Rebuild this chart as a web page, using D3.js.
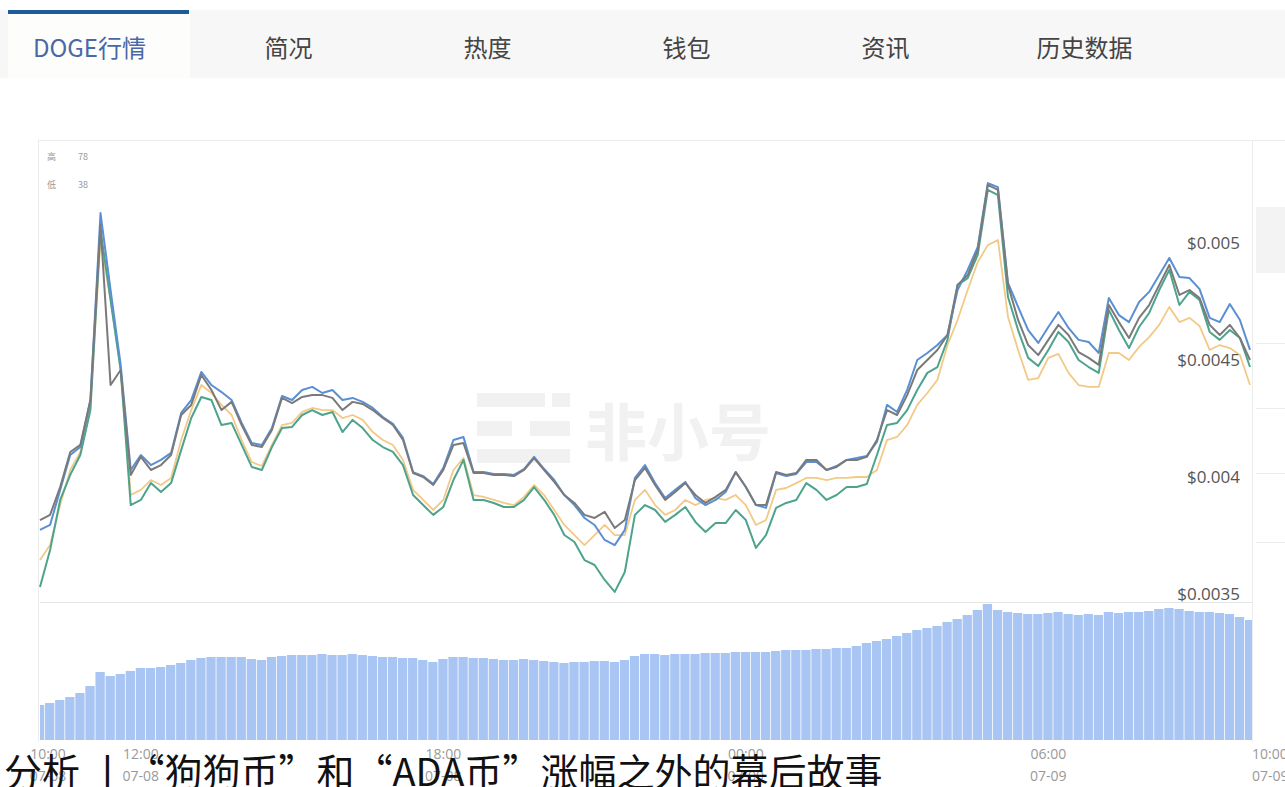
<!DOCTYPE html>
<html><head><meta charset="utf-8">
<script src="https://cdn.jsdelivr.net/npm/d3@7"></script>
<style>body{margin:0;background:#fff;overflow:hidden}</style>
</head><body>
<svg id="c" width="1285" height="787"></svg>
<script>
// ---------- data ----------
const tabs = ["DOGE行情","简况","热度","钱包","资讯","历史数据"];
const startTime = new Date(2021, 6, 8, 10, 0);   // 07-08 10:00
const stepMinutes = 12;                           // sampling interval
const priceGrey = [0.003816,0.003838,0.003957,0.004107,0.004137,0.004329,0.005077,0.004393,0.004457,0.004009,
0.004086,0.004030,0.004051,0.004094,0.004265,0.004308,0.004436,0.004372,0.004286,0.004321,
0.004222,0.004137,0.004128,0.004201,0.004338,0.004316,0.004342,0.004350,0.004350,0.004338,
0.004286,0.004321,0.004312,0.004286,0.004252,0.004222,0.004158,0.004017,0.004000,0.003966,
0.004030,0.004137,0.004145,0.004017,0.004017,0.004009,0.004009,0.004004,0.004030,0.004081,
0.004030,0.003979,0.003923,0.003889,0.003838,0.003825,0.003851,0.003782,0.003816,0.003987,
0.004039,0.003966,0.003902,0.003936,0.003974,0.003923,0.003889,0.003915,0.003945,0.004021,
0.003957,0.003880,0.003880,0.004021,0.004009,0.004017,0.004073,0.004073,0.004030,0.004043,
0.004073,0.004073,0.004086,0.004158,0.004286,0.004265,0.004350,0.004457,0.004500,0.004543,
0.004607,0.004821,0.004863,0.004970,0.005248,0.005227,0.004821,0.004671,0.004564,0.004521,
0.004586,0.004650,0.004607,0.004534,0.004509,0.004479,0.004735,0.004662,0.004594,0.004680,
0.004735,0.004821,0.004906,0.004778,0.004799,0.004765,0.004650,0.004607,0.004650,0.004594,0.004500];
const priceBlue = [0.003774,0.003795,0.003945,0.004094,0.004128,0.004329,0.005128,0.004799,0.004479,0.004030,
0.004094,0.004051,0.004073,0.004103,0.004274,0.004329,0.004449,0.004393,0.004363,0.004329,
0.004231,0.004145,0.004137,0.004209,0.004346,0.004329,0.004372,0.004385,0.004359,0.004372,
0.004329,0.004338,0.004321,0.004295,0.004256,0.004227,0.004167,0.004021,0.004004,0.003970,
0.004039,0.004158,0.004171,0.004021,0.004021,0.004013,0.004013,0.004009,0.004034,0.004086,
0.004034,0.003987,0.003923,0.003880,0.003825,0.003795,0.003731,0.003709,0.003774,0.003996,
0.004051,0.003974,0.003910,0.003945,0.003979,0.003910,0.003880,0.003902,0.003936,0.004021,
0.003957,0.003880,0.003868,0.004017,0.004004,0.004013,0.004064,0.004064,0.004030,0.004047,
0.004073,0.004081,0.004090,0.004150,0.004308,0.004278,0.004372,0.004500,0.004530,0.004564,
0.004607,0.004799,0.004885,0.004983,0.005256,0.005239,0.004829,0.004727,0.004628,0.004573,
0.004641,0.004705,0.004637,0.004586,0.004577,0.004530,0.004765,0.004692,0.004662,0.004748,
0.004791,0.004863,0.004936,0.004855,0.004850,0.004803,0.004680,0.004662,0.004739,0.004671,0.004543];
const priceGreen = [0.003530,0.003688,0.003902,0.004009,0.004094,0.004286,0.005056,0.004756,0.004457,0.003880,
0.003902,0.003974,0.003936,0.003974,0.004115,0.004252,0.004342,0.004329,0.004222,0.004231,
0.004137,0.004043,0.004030,0.004128,0.004209,0.004214,0.004265,0.004286,0.004265,0.004278,
0.004192,0.004244,0.004209,0.004158,0.004128,0.004107,0.004051,0.003923,0.003880,0.003838,
0.003872,0.003987,0.004073,0.003902,0.003902,0.003889,0.003872,0.003872,0.003902,0.003957,
0.003902,0.003838,0.003752,0.003722,0.003645,0.003624,0.003560,0.003509,0.003594,0.003838,
0.003880,0.003859,0.003808,0.003838,0.003872,0.003808,0.003765,0.003803,0.003803,0.003859,
0.003816,0.003697,0.003752,0.003868,0.003889,0.003902,0.003974,0.003945,0.003902,0.003923,
0.003957,0.003957,0.003970,0.004094,0.004222,0.004231,0.004286,0.004372,0.004445,0.004470,
0.004586,0.004821,0.004850,0.004949,0.005227,0.005205,0.004769,0.004628,0.004509,0.004474,
0.004543,0.004620,0.004577,0.004500,0.004470,0.004445,0.004714,0.004628,0.004551,0.004641,
0.004701,0.004799,0.004885,0.004735,0.004791,0.004756,0.004620,0.004586,0.004628,0.004594,0.004470];
const priceOrange = [0.003645,0.003709,0.003880,0.004030,0.004107,0.004308,0.005013,0.004756,0.004457,0.003923,
0.003945,0.003987,0.003966,0.003996,0.004158,0.004286,0.004393,0.004359,0.004308,0.004265,
0.004158,0.004064,0.004047,0.004137,0.004222,0.004231,0.004278,0.004295,0.004286,0.004286,
0.004252,0.004265,0.004244,0.004192,0.004158,0.004137,0.004073,0.003945,0.003902,0.003859,
0.003902,0.004030,0.004081,0.003923,0.003915,0.003902,0.003889,0.003880,0.003915,0.003966,
0.003923,0.003859,0.003795,0.003752,0.003709,0.003752,0.003795,0.003752,0.003752,0.003902,
0.003945,0.003880,0.003838,0.003859,0.003902,0.003880,0.003902,0.003910,0.003902,0.003923,
0.003880,0.003795,0.003816,0.003945,0.003953,0.003974,0.003996,0.003996,0.003987,0.003996,
0.003996,0.004000,0.004000,0.004030,0.004158,0.004171,0.004222,0.004308,0.004359,0.004415,
0.004564,0.004671,0.004799,0.004919,0.004991,0.005013,0.004684,0.004543,0.004415,0.004423,
0.004509,0.004526,0.004445,0.004393,0.004385,0.004385,0.004530,0.004530,0.004500,0.004556,
0.004598,0.004650,0.004727,0.004662,0.004680,0.004645,0.004543,0.004564,0.004551,0.004521,0.004393];
const volume = [70,74,80,86,94,108,136,128,132,138,144,144,146,150,154,160,164,166,166,166,
166,162,160,166,168,170,170,170,172,170,170,172,170,168,166,166,164,164,160,156,
162,166,166,164,164,162,160,160,162,160,158,156,154,156,156,158,158,156,160,168,
172,172,170,172,172,172,174,174,174,176,176,176,176,178,180,180,180,182,182,184,
184,188,194,198,202,208,214,220,224,228,236,242,250,260,272,260,256,254,252,252,
254,256,252,250,252,250,256,254,256,256,258,262,264,262,258,256,256,254,252,246,240];
const yTicks = [0.0035, 0.004, 0.0045, 0.005];
const xTickLabels = [
  {t: new Date(2021,6,8,10,0), time:"10:00", date:"07-08"},
  {t: new Date(2021,6,8,12,0), time:"12:00", date:"07-08"},
  {t: new Date(2021,6,8,18,0), time:"18:00", date:"07-08"},
  {t: new Date(2021,6,9,0,0),  time:"00:00", date:"07-09"},
  {t: new Date(2021,6,9,6,0),  time:"06:00", date:"07-09"},
  {t: new Date(2021,6,9,10,0), time:"10:00", date:"07-09"}
];
const legendRows = [["高","78"],["低","38"]];
const titleText = "分析 丨“狗狗币”和“ADA币”涨幅之外的幕后故事";
const watermarkText = "非小号";

// ---------- drawing ----------
const FONT = "'Noto Sans CJK SC','Noto Sans',sans-serif";
const svg = d3.select("#c");
const times = priceGrey.map((_, i) => new Date(startTime.getTime() + i * stepMinutes * 60000));
const endTime = times[times.length - 1];

const x = d3.scaleTime().domain([startTime, endTime]).range([40, 1250]);
const y = d3.scaleLinear().domain([0.0035, 0.005]).range([594, 243]);
const yv = d3.scaleLinear().domain([0, 276]).range([740, 602]);

// tab bar
svg.append("rect").attr("x",0).attr("y",10).attr("width",1285).attr("height",68).attr("fill","#f7f7f7");
svg.append("rect").attr("x",8).attr("y",10).attr("width",182).attr("height",68).attr("fill","#fdfdfb");
svg.append("rect").attr("x",8).attr("y",10).attr("width",181).attr("height",4).attr("fill","#1f5a99");
const tabX = d3.scaleBand().domain(tabs).range([-10, 1184]);
svg.append("g").selectAll("text").data(tabs).join("text")
  .attr("x", d => tabX(d) + tabX.bandwidth()/2)
  .attr("y", 57)
  .attr("text-anchor","middle")
  .attr("font-family", FONT).attr("font-size", 24)
  .attr("fill", (d,i) => i === 0 ? "#4a67a6" : "#444")
  .text(d => d);

// chart frame
const frame = svg.append("g").attr("stroke","#ececec").attr("fill","none");
frame.append("line").attr("x1",38).attr("x2",1285).attr("y1",140.5).attr("y2",140.5);
frame.append("line").attr("x1",38.5).attr("x2",38.5).attr("y1",140).attr("y2",742);
frame.append("line").attr("x1",1252.5).attr("x2",1252.5).attr("y1",140).attr("y2",742);
frame.append("line").attr("x1",40).attr("x2",1252).attr("y1",602.5).attr("y2",602.5).attr("stroke","#e4e4e4");
svg.append("rect").attr("x",1256).attr("y",207).attr("width",29).attr("height",66).attr("fill","#f3f3f3");
[343,408,473,542].forEach(v => frame.append("line").attr("x1",1256).attr("x2",1285).attr("y1",v+0.5).attr("y2",v+0.5));

// legend marks
const lg = svg.append("g").attr("font-family", FONT).attr("font-size", 9).attr("fill","#999");
legendRows.forEach((r, k) => {
  lg.append("text").attr("x",47).attr("y",160 + k*28).text(r[0]);
  lg.append("text").attr("x",78).attr("y",160 + k*28).text(r[1]);
});

// watermark
const wm = svg.append("g").attr("fill","#f1f1f1");
wm.append("rect").attr("x",477).attr("y",393).attr("width",68).attr("height",14);
wm.append("rect").attr("x",552).attr("y",393).attr("width",18).attr("height",14);
wm.append("rect").attr("x",477).attr("y",421).attr("width",35).attr("height",15);
wm.append("rect").attr("x",530).attr("y",421).attr("width",40).attr("height",15);
wm.append("rect").attr("x",477).attr("y",449).attr("width",93).attr("height",14);
wm.append("text").attr("x",585).attr("y",456).attr("font-family",FONT).attr("font-size",62)
  .attr("font-weight","bold").text(watermarkText);

// volume bars
const step = x(times[1]) - x(times[0]);
svg.append("clipPath").attr("id","vclip").append("rect").attr("x",40).attr("y",600).attr("width",1212).attr("height",142);
svg.append("g").attr("clip-path","url(#vclip)").selectAll("rect").data(volume).join("rect")
  .attr("x", (d,i) => x(times[i]) - step/2)
  .attr("width", step - 0.8)
  .attr("y", d => yv(d))
  .attr("height", d => yv(0) - yv(d))
  .attr("fill", "#a9c5f3");

// price lines
const line = d3.line().x((d,i) => x(times[i])).y(d => y(d));
const series = [
  {data: priceOrange, color: "#f3c986", w: 1.8},
  {data: priceGreen,  color: "#4ea38c", w: 2},
  {data: priceBlue,   color: "#5a8fd3", w: 2},
  {data: priceGrey,   color: "#7a7a7a", w: 2}
];
svg.append("g").selectAll("path").data(series).join("path")
  .attr("d", s => line(s.data))
  .attr("fill","none")
  .attr("stroke", s => s.color)
  .attr("stroke-width", s => s.w)
  .attr("stroke-linejoin","round");

// y labels (right, inside)
svg.append("g").selectAll("text").data(yTicks).join("text")
  .attr("x", 1240).attr("y", d => y(d) + 6)
  .attr("text-anchor","end")
  .attr("font-family","'Open Sans',sans-serif").attr("font-size", 17)
  .attr("fill","#555")
  .text(d => "$" + d);

// x labels
const xl = svg.append("g").attr("font-family","'Open Sans',sans-serif").attr("font-size",14).attr("fill","#999");
xTickLabels.forEach((d, k) => {
  let px = x(d.t), anchor = "middle";
  if (k === 0) px += 8;
  if (k === xTickLabels.length - 1) { px += 2; anchor = "start"; }
  xl.append("text").attr("x",px).attr("y",759).attr("text-anchor",anchor).text(d.time);
  xl.append("text").attr("x",px).attr("y",781).attr("text-anchor",anchor).text(d.date);
});

// overlaid title
svg.append("text").attr("x",4).attr("y",786)
  .attr("font-family",FONT).attr("font-size",38).attr("fill","#111")
  .text(titleText);
</script>
</body></html>
